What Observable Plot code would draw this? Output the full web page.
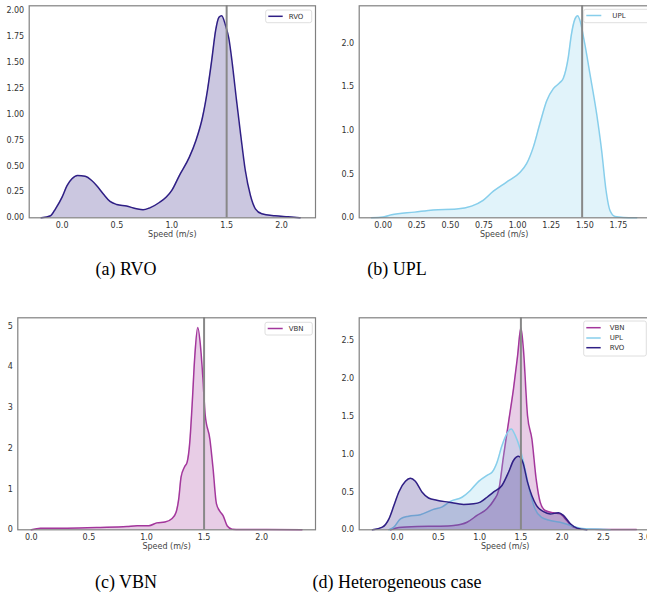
<!DOCTYPE html>
<html>
<head>
<meta charset="utf-8">
<script src="https://cdn.jsdelivr.net/npm/d3@7"></script>
<script src="https://cdn.jsdelivr.net/npm/@observablehq/plot@0.6"></script>
<style>
  html, body { margin: 0; padding: 0; background: #fff; }
  #root { position: relative; width: 647px; height: 592px; overflow: hidden; background: #fff; }
  .panel { position: absolute; }
  .panel svg { max-width: none !important; }
  .cap { position: absolute; width: 240px; text-align: center; font-family: "Liberation Serif", "Times New Roman", serif; font-size: 18px; color: #000; line-height: 1; }
</style>
</head>
<body>
<div id="root"></div>
<script>
// ---------- Data ----------
// (a) RVO
const rvoA_x = [-0.19,-0.105,-0.06,0.0,0.045,0.09,0.14,0.21,0.27,0.316,0.376,0.437,0.497,0.587,0.678,0.738,0.8,0.89,0.95,1.0,1.07,1.16,1.22,1.28,1.325,1.364,1.4,1.43,1.455,1.49,1.52,1.55,1.587,1.627,1.67,1.717,1.762,1.82,1.94,2.06,2.17];
const rvoA_y = [0,0.02,0.087,0.2,0.31,0.376,0.408,0.40,0.36,0.31,0.23,0.158,0.129,0.113,0.087,0.077,0.096,0.15,0.2,0.264,0.41,0.585,0.746,0.97,1.23,1.52,1.81,1.935,1.95,1.855,1.73,1.5,1.16,0.81,0.457,0.215,0.087,0.039,0.02,0.01,0];
// (b) UPL
const uplB_x = [-0.087,0.0,0.062,0.236,0.372,0.546,0.658,0.744,0.82,0.918,1.017,1.067,1.117,1.166,1.216,1.266,1.315,1.34,1.377,1.4,1.427,1.447,1.464,1.5,1.538,1.588,1.625,1.658,1.687,1.725,1.787,1.886];
const uplB_y = [0,0.008,0.034,0.065,0.09,0.1,0.134,0.2,0.305,0.41,0.52,0.62,0.81,1.08,1.34,1.48,1.55,1.6,1.84,2.1,2.28,2.317,2.26,1.99,1.65,1.19,0.77,0.31,0.084,0.015,0.004,0];
// (c) VBN
const vbnC_x = [0,0.08,0.31,0.6,0.83,0.92,1.02,1.09,1.16,1.22,1.257,1.28,1.3,1.33,1.353,1.376,1.396,1.42,1.445,1.468,1.488,1.51,1.55,1.578,1.607,1.636,1.665,1.7,1.743,1.815,2.046,2.35];
const vbnC_y = [0,0.04,0.04,0.057,0.08,0.1,0.1,0.17,0.19,0.27,0.43,0.76,1.29,1.54,1.66,2.15,3.05,4.28,4.96,4.53,3.79,2.81,2.23,1.5,0.64,0.46,0.35,0.1,0.016,0.008,0.008,0];
// (d) Heterogeneous case
const vbnD_x = [-0.08,0.02,0.24,0.52,0.685,0.847,0.968,1.09,1.17,1.23,1.29,1.35,1.41,1.46,1.5,1.53,1.58,1.633,1.685,1.734,1.794,1.895,1.976,2.056,2.137,2.26,2.5,2.9];
const vbnD_y = [0,0.03,0.044,0.048,0.057,0.1,0.19,0.277,0.387,0.52,0.98,1.42,1.86,2.3,2.67,2.39,1.51,1.2,0.67,0.365,0.255,0.224,0.21,0.123,0.035,0.009,0.004,0.004];
const uplD_x = [-0.1,-0.04,0.04,0.14,0.28,0.44,0.54,0.645,0.786,0.887,0.988,1.09,1.15,1.21,1.27,1.33,1.383,1.43,1.49,1.55,1.61,1.67,1.75,1.855,1.976,2.1,2.22,2.42,2.58];
const uplD_y = [0,0.035,0.145,0.18,0.2,0.27,0.3,0.375,0.43,0.52,0.64,0.72,0.76,0.89,1.11,1.27,1.33,1.25,1.07,0.805,0.5,0.277,0.163,0.123,0.1,0.057,0.022,0.009,0];
const rvoD_x = [-0.3,-0.18,-0.1,-0.04,0.02,0.1,0.16,0.22,0.3,0.38,0.48,0.625,0.806,0.927,1.008,1.09,1.17,1.27,1.35,1.41,1.47,1.524,1.58,1.633,1.69,1.774,1.855,1.955,2.016,2.1,2.18,2.3];
const rvoD_y = [0,0.035,0.145,0.32,0.5,0.64,0.68,0.64,0.5,0.42,0.39,0.365,0.335,0.343,0.365,0.43,0.5,0.585,0.76,0.915,0.97,0.89,0.63,0.45,0.32,0.24,0.21,0.224,0.19,0.08,0.022,0];

const refSpeedA = 1.5, refSpeedB = 1.48, refSpeedC = 1.5, refSpeedD = 1.5;
const captions = ["(a) RVO", "(b) UPL", "(c) VBN", "(d) Heterogeneous case"];
const xLabel = "Speed (m/s)";

const colors = { RVO: "#2f1f85", UPL: "#87ceeb", VBN: "#a3379c" };

const zip = (xs, ys) => xs.map((x, i) => ({ x, y: ys[i] }));

// ---------- Panels ----------
const root = document.getElementById("root");

function panel(cfg) {
  const marks = [];
  for (const s of cfg.series) {
    const data = zip(s.x, s.y);
    marks.push(Plot.areaY(data, { x: "x", y: "y", fill: colors[s.name], fillOpacity: 0.25, curve: "monotone-x" }));
    marks.push(Plot.lineY(data, { x: "x", y: "y", stroke: colors[s.name], strokeWidth: 1.5, curve: "monotone-x" }));
  }
  marks.push(Plot.ruleX([cfg.vline], { stroke: "#888", strokeWidth: 2 }));
  marks.push(Plot.frame({ stroke: "#808080", strokeWidth: 1.2 }));
  marks.push(Plot.axisX({ ticks: cfg.xTicks, tickFormat: d3.format(cfg.xFmt), tickSize: 0, tickPadding: 5, label: null, fill: "#333" }));
  marks.push(Plot.axisY({ ticks: cfg.yTicks, tickFormat: d3.format(cfg.yFmt), tickSize: 0, tickPadding: 5, label: null, fill: "#333" }));
  marks.push(Plot.text([xLabel], { text: d => d, frameAnchor: "bottom", dy: 19, fontSize: 8, fill: "#444" }));

  const svg = Plot.plot({
    width: cfg.width, height: cfg.height,
    marginLeft: cfg.m[0], marginRight: cfg.m[1], marginTop: cfg.m[2], marginBottom: cfg.m[3],
    x: { domain: cfg.xDomain },
    y: { domain: cfg.yDomain },
    style: { fontFamily: "DejaVu Sans, sans-serif", fontSize: "8px", background: "transparent", overflow: "visible", maxWidth: "none" },
    marks
  });
  svg.style.width = cfg.width + "px";
  svg.style.height = cfg.height + "px";
  const wrap = document.createElement("div");
  wrap.className = "panel";
  wrap.style.left = cfg.left + "px";
  wrap.style.top = cfg.top + "px";
  wrap.style.width = cfg.width + "px";
  wrap.style.height = cfg.height + "px";
  wrap.appendChild(svg);
  root.appendChild(wrap);

  // legend
  const lg = cfg.legend;
  const g = d3.select(svg).append("g").attr("font-family", "DejaVu Sans, sans-serif").attr("font-size", 7).attr("text-anchor", "start");
  g.append("rect").attr("x", lg.x0).attr("y", lg.y0).attr("width", lg.x1 - lg.x0).attr("height", lg.y1 - lg.y0)
    .attr("rx", 2).attr("fill", "#fff").attr("fill-opacity", 0.85).attr("stroke", "#d6d6d6").attr("stroke-width", 0.8);
  lg.items.forEach((name, i) => {
    const y = lg.ys[i];
    g.append("line").attr("x1", lg.lx0).attr("x2", lg.lx1).attr("y1", y).attr("y2", y)
      .attr("stroke", colors[name]).attr("stroke-width", 1.5);
    g.append("text").attr("x", lg.tx).attr("y", y).attr("dy", "0.35em").attr("text-anchor", "start").attr("fill", "#333").text(name);
  });
}

panel({
  left: 0, top: 0, width: 323, height: 240, m: [28.7, 8, 5.3, 22.7],
  xDomain: [-0.3, 2.31], yDomain: [0, 2.045],
  xTicks: [0, 0.5, 1, 1.5, 2], xFmt: ".1f",
  yTicks: [0, 0.25, 0.5, 0.75, 1, 1.25, 1.5, 1.75, 2], yFmt: ".2f",
  series: [{ name: "RVO", x: rvoA_x, y: rvoA_y }], vline: refSpeedA,
  legend: { x0: 265.7, x1: 311.7, y0: 10, y1: 22.7, lx0: 268.3, lx1: 282.7, tx: 288.7, items: ["RVO"], ys: [16.3] }
});

panel({
  left: 323, top: 0, width: 330, height: 240, m: [35.7, 4.4, 5.3, 22.7],
  xDomain: [-0.178, 1.978], yDomain: [0, 2.43],
  xTicks: [0, 0.25, 0.5, 0.75, 1, 1.25, 1.5, 1.75], xFmt: ".2f",
  yTicks: [0, 0.5, 1, 1.5, 2], yFmt: ".1f",
  series: [{ name: "UPL", x: uplB_x, y: uplB_y }], vline: refSpeedB,
  legend: { x0: 260.7, x1: 330, y0: 9.3, y1: 22.7, lx0: 263.3, lx1: 278.3, tx: 289.3, items: ["UPL"], ys: [15.5] }
});

panel({
  left: 0, top: 305, width: 323, height: 250, m: [17.3, 8, 12.3, 25.7],
  xDomain: [-0.1175, 2.4675], yDomain: [0, 5.2],
  xTicks: [0, 0.5, 1, 1.5, 2], xFmt: ".1f",
  yTicks: [0, 1, 2, 3, 4, 5], yFmt: "d",
  series: [{ name: "VBN", x: vbnC_x, y: vbnC_y }], vline: refSpeedC,
  legend: { x0: 265, x1: 312.3, y0: 17.3, y1: 30, lx0: 267.7, lx1: 282.7, tx: 288.7, items: ["VBN"], ys: [23.5] }
});

panel({
  left: 323, top: 305, width: 332, height: 250, m: [35.7, 4.3, 12.3, 25.7],
  xDomain: [-0.461, 3.08], yDomain: [0, 2.8],
  xTicks: [0, 0.5, 1, 1.5, 2, 2.5, 3], xFmt: ".1f",
  yTicks: [0, 0.5, 1, 1.5, 2, 2.5], yFmt: ".1f",
  series: [
    { name: "VBN", x: vbnD_x, y: vbnD_y },
    { name: "UPL", x: uplD_x, y: uplD_y },
    { name: "RVO", x: rvoD_x, y: rvoD_y }
  ], vline: refSpeedD,
  legend: { x0: 260.7, x1: 323.3, y0: 16, y1: 51, lx0: 263.3, lx1: 277.7, tx: 286.7, items: ["VBN", "UPL", "RVO"], ys: [22.7, 33, 42.7] }
});

// ---------- Captions ----------
const capPos = [[126, 269], [397, 269], [126, 582], [397, 582]];
captions.forEach((t, i) => {
  const d = document.createElement("div");
  d.className = "cap";
  d.textContent = t;
  d.style.left = (capPos[i][0] - 120) + "px";
  d.style.top = (capPos[i][1] - 9) + "px";
  root.appendChild(d);
});
</script>
</body>
</html>
